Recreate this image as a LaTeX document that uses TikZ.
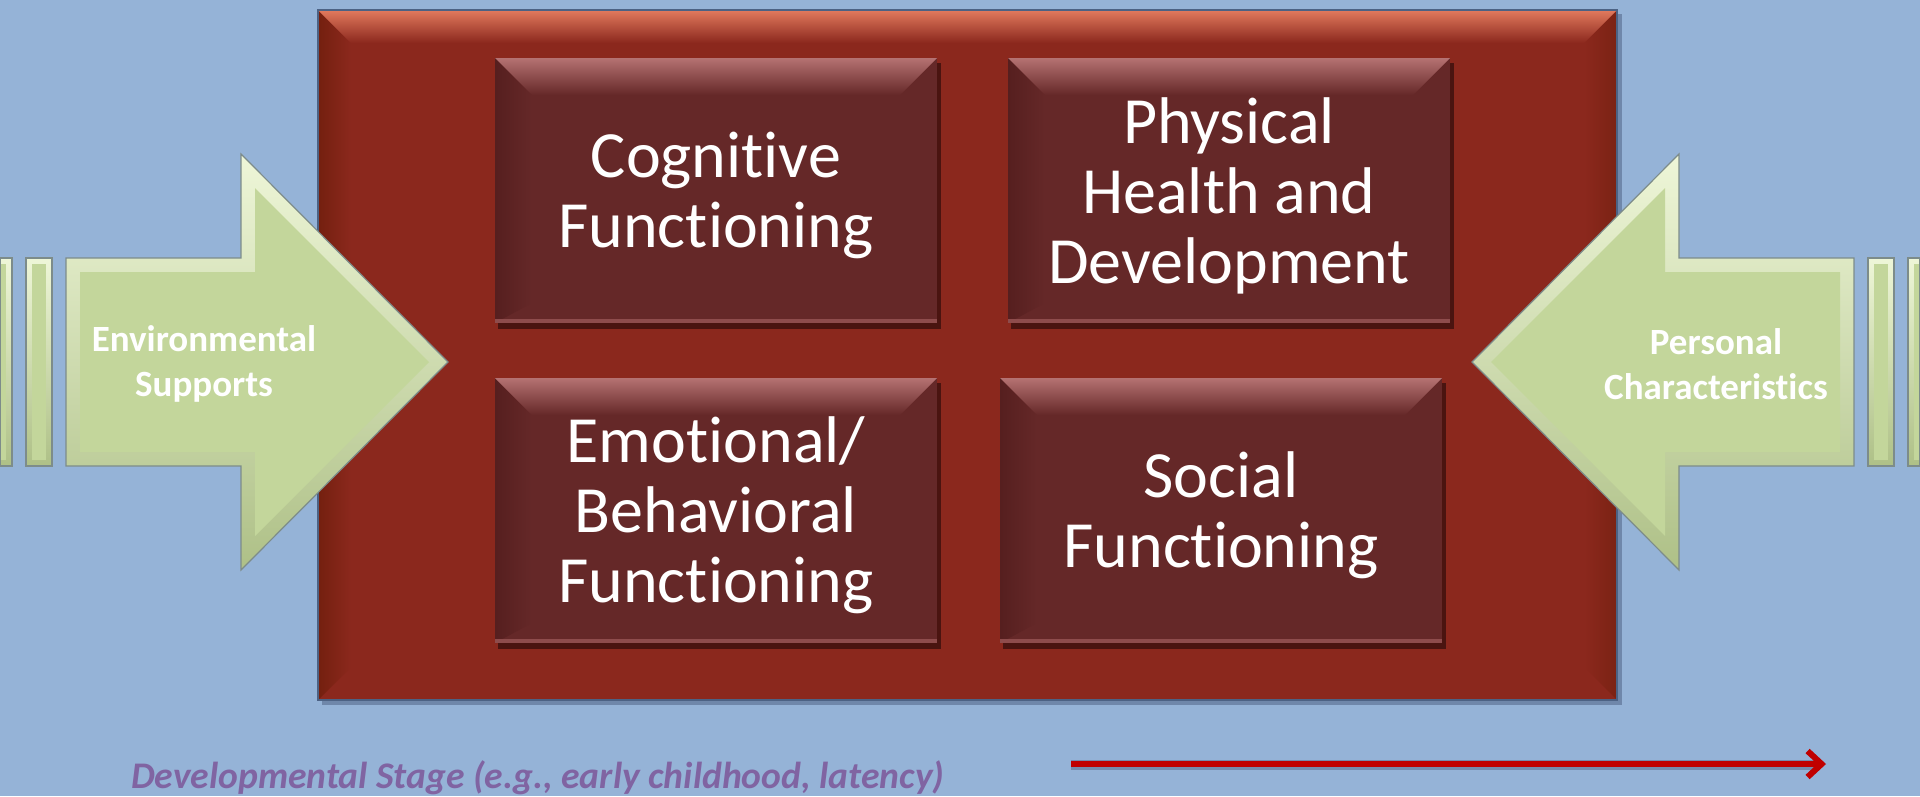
\documentclass[tikz,border=0pt]{standalone}
\usepackage{fontspec}
\setmainfont{Carlito}[Ligatures={NoCommon}]
\usetikzlibrary{arrows.meta}
\definecolor{bg}{HTML}{95B3D7}
\definecolor{redmain}{HTML}{8B281D}
\definecolor{redtop}{HTML}{E27A5E}
\definecolor{redleft}{HTML}{74200F}
\definecolor{rborder}{HTML}{4C6284}
\definecolor{rshadow}{HTML}{6F87AA}
\definecolor{boxmain}{HTML}{652828}
\definecolor{boxtop}{HTML}{B57272}
\definecolor{boxleft}{HTML}{561F1F}
\definecolor{boxbot}{HTML}{8E4C4C}
\definecolor{boxshadow}{HTML}{4A1410}
\definecolor{grn}{HTML}{C3D69B}
\definecolor{grnlight}{HTML}{EEF6D8}
\definecolor{grndark}{HTML}{AEC087}
\definecolor{grnedge}{HTML}{7D8C8A}
\definecolor{stagepurple}{HTML}{8064A2}
\definecolor{arrred}{HTML}{C00000}
\definecolor{arrshadow}{HTML}{5E7394}
\tikzset{
  boxtext/.style={text=white, align=center, inner sep=0pt, font=\fontsize{66}{70}\selectfont},
  arrowtext/.style={text=white, align=center, inner sep=0pt, font=\bfseries\fontsize{37}{45}\selectfont},
  stagetext/.style={text=stagepurple, inner sep=0pt, font=\bfseries\itshape\fontsize{37.6}{44}\selectfont},
  grnedgeline/.style={draw=grnedge, line width=1.2pt},
}
\newcommand\innerbox[6]{%
  \fill[boxshadow] (#2+3,#3+5) rectangle (#4+4,#5+6);
  \fill[boxmain] (#2,#3) rectangle (#4,#5);
  \shade[left color=boxleft, right color=boxmain] (#2,#3) -- (#2+37,#3+37) -- (#2+37,#5-20) -- (#2,#5) -- cycle;
  \shade[top color=boxtop, bottom color=boxmain] (#2,#3) -- (#4,#3) -- (#4-37,#3+37) -- (#2+37,#3+37) -- cycle;
  \fill[boxbot] (#2,#5-4) rectangle (#4,#5);
  \node[boxtext] (#1) at ({(#2+#4)/2},{(#3+#5)/2+5}) {#6};
}
\newcommand\greenshape[2]{% outer path, inner path
  \shade[top color=grnlight, bottom color=grndark] #1;
  \fill[grn] #2;
  \draw[grnedgeline] #1;
}
\begin{document}
\begin{tikzpicture}[x=1pt,y=-1pt]
\useasboundingbox (0,0) rectangle (1920,796);
\fill[bg] (0,0) rectangle (1920,796);

% big red rectangle
\fill[rshadow] (322,14) rectangle (1622,705);
\fill[redmain] (318,10) rectangle (1617,700);
\shade[left color=redleft, right color=redmain] (318,10) -- (351,43) -- (351,667) -- (318,700) -- cycle;
\shade[right color=redleft!70!redmain, left color=redmain] (1617,10) -- (1584,43) -- (1584,667) -- (1617,700) -- cycle;
\shade[top color=redtop, bottom color=redmain] (318,10) -- (1617,10) -- (1584,43) -- (351,43) -- cycle;
\draw[rborder, line width=1.2pt] (318,10) rectangle (1617,700);

% inner boxes
\innerbox{cog}{495}{58}{937}{323}{Cognitive\\Functioning}
\innerbox{phys}{1008}{58}{1450}{323}{Physical\\Health and\\Development}
\innerbox{emo}{495}{378}{937}{643}{Emotional/\\Behavioral\\Functioning}
\innerbox{soc}{1000}{378}{1442}{643}{Social\\Functioning}

% left arrow and bars
\greenshape{(0,258) rectangle (12,466)}{(0,264) rectangle (6,460)}
\greenshape{(26,258) rectangle (52,466)}{(32,264) rectangle (46,460)}
\greenshape{(66,258) -- (241,258) -- (241,154) -- (448,362) -- (241,570) -- (241,466) -- (66,466) -- cycle}
           {(80,272) -- (255,272) -- (255,188) -- (429,362) -- (255,536) -- (255,452) -- (80,452) -- cycle}
\node[arrowtext] (env) at (204,364) {Environmental\\Supports};

% right arrow and bars
\greenshape{(1908,258) rectangle (1920,466)}{(1914,264) rectangle (1920,460)}
\greenshape{(1868,258) rectangle (1894,466)}{(1874,264) rectangle (1888,460)}
\greenshape{(1854,258) -- (1679,258) -- (1679,154) -- (1472,362) -- (1679,570) -- (1679,466) -- (1854,466) -- cycle}
           {(1840,272) -- (1665,272) -- (1665,188) -- (1491,362) -- (1665,536) -- (1665,452) -- (1840,452) -- cycle}
\node[arrowtext] (pers) at (1716,364) {Personal\\Characteristics};

% developmental stage
\node[stagetext, anchor=base west] (stage) at (131,788) {Developmental Stage (e.g., early childhood, latency)};
\coordinate (arrstart) at (1071,764);
\coordinate (arrend) at (1826,764);
\draw[arrshadow, line width=10pt, opacity=0.6] ([yshift=-1pt]arrstart) -- ([yshift=-1pt,xshift=-6pt]arrend);
\draw[arrred, line width=6pt, -{Straight Barb[length=14pt,width=26pt]}] (arrstart) -- (arrend);
\end{tikzpicture}
\end{document}
